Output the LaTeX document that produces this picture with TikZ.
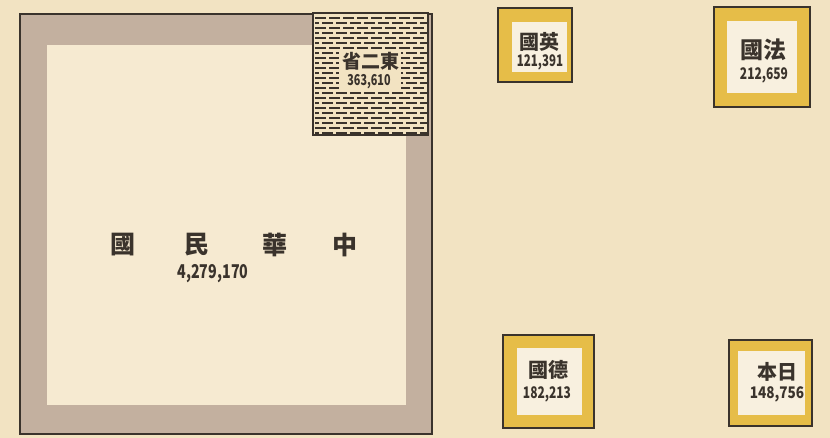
\documentclass[tikz,border=0pt]{standalone}
\usepackage{fontspec}
\newfontfamily\cjk{Noto Sans CJK TC}
\definecolor{paper}{HTML}{F2E3C2}
\definecolor{innerc}{HTML}{F6EAD1}
\definecolor{band}{HTML}{C3B09F}
\definecolor{ink}{HTML}{3A332C}
\definecolor{gold}{HTML}{E6BD48}
\definecolor{whitec}{HTML}{F8F0DF}
\tikzset{
  lab/.style={inner sep=0pt, text=ink, font=\cjk\bfseries\fontsize{20}{20}\selectfont},
  biglab/.style={inner sep=0pt, text=ink, font=\cjk\bfseries\fontsize{25}{25}\selectfont},
  num/.style={inner sep=0pt, text=ink, font=\cjk\bfseries\fontsize{16}{16}\selectfont},
  hatch/.style={ink, line width=2.2pt, dash pattern=on 11pt off 3pt},
  frame/.style={ink, line width=1.6pt},
}
\begin{document}
\begin{tikzpicture}[x=1pt,y=-1pt]
\useasboundingbox[fill=paper] (0,0) rectangle (830,438);
% big square
\fill[band] (20,14) rectangle (432,434);
\fill[innerc] (47,45) rectangle (406,405);
\draw[frame] (20,14) rectangle (432,434);
% hatched box
\fill[paper] (313,13) rectangle (428,135);
\begin{scope}
\clip (313,13) rectangle (428,135);
\foreach \i in {0,...,24} {
  \pgfmathsetmacro\yy{18+5*\i}
  \pgfmathsetmacro\ph{mod(\i,2)*7}
  \draw[hatch, dash phase=\ph pt] (315,\yy) -- (428,\yy);
}
\end{scope}
\fill[paper] (339,49) rectangle (401,92);
\draw[frame] (313,13) rectangle (428,135);
\node[lab, font=\cjk\bfseries\fontsize{19}{19}\selectfont] (ne) at (371,61) {省二東};
\node[num, font=\cjk\bfseries\fontsize{15}{15}\selectfont] (nen) at (369,82) {\scalebox{0.72}[1]{363,610}};
% main labels
\node[biglab] (c4) at (123,245) {國};
\node[biglab] (c3) at (197,245) {民};
\node[biglab] (c2) at (275,245) {華};
\node[biglab] (c1) at (345,245) {中};
\node[num, font=\cjk\bfseries\fontsize{19}{19}\selectfont] (cn) at (213,274) {\scalebox{0.75}[1]{4,279,170}};
% England
\fill[gold] (498,8) rectangle (572,82);
\fill[whitec] (512,22) rectangle (567,72);
\draw[frame] (498,8) rectangle (572,82);
\node[lab] (en) at (539,42) {國英};
\node[num] (enn) at (540,62) {\scalebox{0.72}[1]{121,391}};
% France
\fill[gold] (714,7) rectangle (810,107);
\fill[whitec] (727,21) rectangle (797,93);
\draw[frame] (714,7) rectangle (810,107);
\node[lab, font=\cjk\bfseries\fontsize{23}{23}\selectfont] (fr) at (763,50) {國法};
\node[num] (frn) at (764,75) {\scalebox{0.75}[1]{212,659}};
% Germany
\fill[gold] (503,335) rectangle (594,428);
\fill[whitec] (517,348) rectangle (582,415);
\draw[frame] (503,335) rectangle (594,428);
\node[lab] (de) at (548,370) {國德};
\node[num] (den) at (547,394) {\scalebox{0.75}[1]{182,213}};
% Japan
\fill[gold] (729,340) rectangle (812,426);
\fill[whitec] (738,351) rectangle (805,415);
\draw[frame] (729,340) rectangle (812,426);
\node[lab] (jp) at (777,372) {本日};
\node[num] (jpn) at (777,394) {\scalebox{0.85}[1]{148,756}};
\end{tikzpicture}
\end{document}
